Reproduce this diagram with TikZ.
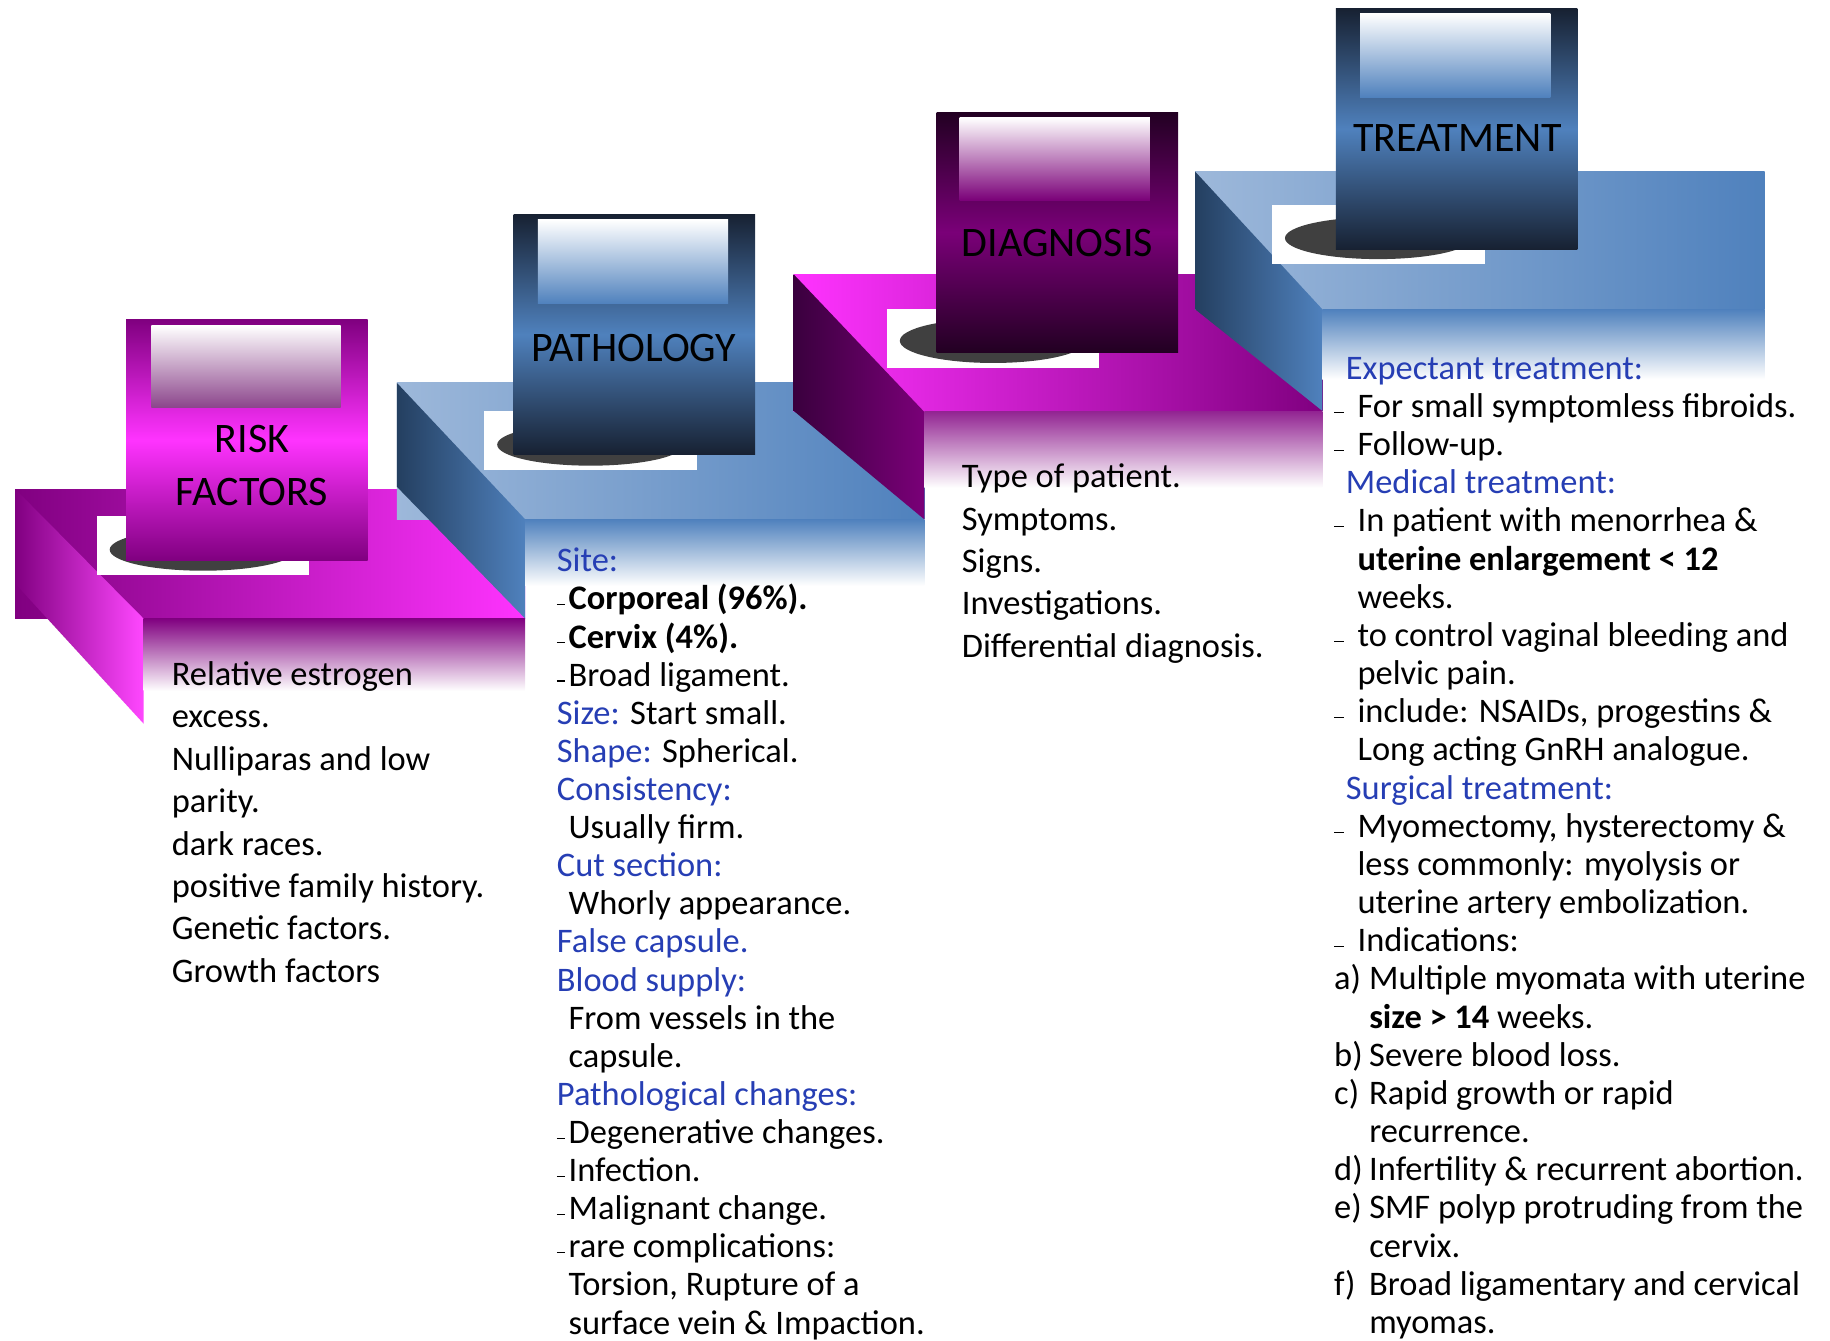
\documentclass[tikz,border=0pt]{standalone}
\usepackage{fontspec}
\setmainfont{Carlito}
\usepackage{tikz}
\usetikzlibrary{positioning}
\definecolor{RiskPurple}{RGB}{128,0,128}
\definecolor{RiskPink}{RGB}{255,51,255}
\definecolor{RiskMauve}{RGB}{140,70,140}
\definecolor{PathNavy}{RGB}{23,33,50}
\definecolor{PathBlue}{RGB}{79,129,189}
\definecolor{PathLight}{RGB}{157,184,218}
\definecolor{PathSide}{RGB}{36,63,96}
\definecolor{DiagDark}{RGB}{34,0,34}
\definecolor{DiagPurple}{RGB}{122,0,120}
\definecolor{DiagSide}{RGB}{58,0,62}
\definecolor{ShadowGray}{RGB}{64,64,64}
\definecolor{HeadBlue}{RGB}{38,62,180}
\newcommand{\headtxt}[1]{\textcolor{HeadBlue}{#1}}
\newcommand{\pathdash}{\makebox[10pt][l]{\rule[4pt]{7pt}{0.9pt}}}
\newcommand{\pathind}{\hspace*{10pt}}
\newcommand{\treatdash}{\makebox[20pt][l]{\rule[4pt]{8pt}{0.9pt}}}
\newcommand{\treatind}{\hspace*{20pt}}
\newcommand{\treathead}[1]{\hspace*{10pt}\textcolor{HeadBlue}{#1}}
\newcommand{\treatitem}[1]{\makebox[30pt][l]{#1}}
\newcommand{\treatcont}{\hspace*{30pt}}

\begin{document}
\begin{tikzpicture}[x=1pt,y=-1pt,
	titlebox/.style={rectangle,minimum width=207pt,minimum height=206pt,inner sep=0pt},
	titletxt/.style={anchor=base,inner sep=0pt,font=\fontsize{36}{45}\selectfont},
	bodytxt/.style={anchor=base west,inner sep=0pt,font=\fontsize{29.5}{35}\selectfont},
	shadowbg/.style={fill=white},
	shadowdisc/.style={fill=ShadowGray}]
	\useasboundingbox (0,0) rectangle (1568,1149);

	% risk factors
	\shade[left color=RiskPurple,right color=RiskPink] (13,419) rectangle (450,530);
	\shade[left color=RiskPurple,right color=RiskPink!90!white] (13,419) -- (123,530) -- (123,620) -- (13,500) -- cycle;
	\shade[top color=RiskPurple,bottom color=white] (123,530) rectangle (450,592);
	\fill[shadowbg] (83,442) rectangle (265,493);
	\fill[shadowdisc] (174,471) ellipse [x radius=80,y radius=18];
	\node[titlebox,top color=RiskPurple,bottom color=RiskPurple,middle color=RiskPink] (riskbox) at (211.5,377) {};
	\shade[top color=white,bottom color=RiskMauve] ([shift={(22,5)}]riskbox.north west) rectangle ++(162,70);
	\node[titletxt] (risktitle) at (216,388) {RISK};
	\node[titletxt] (risktitle2) at (216,433) {FACTORS};

	% pathology
	\shade[left color=PathLight,right color=PathBlue] (340,328) rectangle (792,445);
	\shade[left color=PathSide,right color=PathBlue] (340,328) -- (450,445) -- (450,530) -- (340,417) -- cycle;
	\shade[top color=PathBlue,bottom color=white] (450,445) rectangle (792,502);
	\fill[shadowbg] (415,352) rectangle (597,403);
	\fill[shadowdisc] (506,381) ellipse [x radius=80,y radius=18];
	\node[titlebox,top color=PathNavy,bottom color=PathNavy,middle color=PathBlue] (pathbox) at (543.5,286.5) {};
	\shade[top color=white,bottom color=PathBlue] ([shift={(21,5)}]pathbox.north west) rectangle ++(163,72);
	\node[titletxt] (pathtitle) at (543,310) {PATHOLOGY};

	% diagnosis
	\shade[left color=RiskPink,right color=RiskPurple] (680,235) rectangle (1133,353);
	\shade[left color=DiagSide,right color=DiagPurple] (680,235) -- (792,353) -- (792,445) -- (680,352) -- cycle;
	\shade[top color=RiskPurple!85!white,bottom color=white] (792,353) rectangle (1133,418);
	\fill[shadowbg] (760,265) rectangle (942,315);
	\fill[shadowdisc] (851,292) ellipse [x radius=80,y radius=19];
	\node[titlebox,top color=DiagDark,bottom color=DiagDark,middle color=DiagPurple] (diagbox) at (906,199) {};
	\shade[top color=white,bottom color=DiagPurple] ([shift={(20,5)}]diagbox.north west) rectangle ++(163,71);
	\node[titletxt] (diagtitle) at (906,220) {DIAGNOSIS};

	% treatment
	\shade[left color=PathLight,right color=PathBlue] (1024,147) rectangle (1512,265);
	\shade[left color=PathSide,right color=PathBlue] (1024,147) -- (1133,265) -- (1133,352) -- (1024,265) -- cycle;
	\shade[top color=PathBlue,bottom color=white] (1133,265) rectangle (1512,325);
	\fill[shadowbg] (1090,176) rectangle (1272,226);
	\fill[shadowdisc] (1181,204) ellipse [x radius=80,y radius=18];
	\node[titlebox,top color=PathNavy,bottom color=PathNavy,middle color=PathBlue] (treatbox) at (1248,110.5) {};
	\shade[top color=white,bottom color=PathBlue] ([shift={(21,4)}]treatbox.north west) rectangle ++(163,72);
	\node[titletxt] (treattitle) at (1249,130) {TREATMENT};

	% texts
	\foreach \linetext [count=\i from 0] in {Relative estrogen, excess., Nulliparas and low, parity., dark races., positive family history., Genetic factors., Growth factors}
		\node[bodytxt] (risk-\i) at (147,587+36.4*\i) {\linetext};

	\foreach \linetext [count=\i from 0] in {
		\headtxt{Site:},
		\pathdash\textbf{Corporeal (96\%).},
		\pathdash\textbf{Cervix (4\%).},
		\pathdash Broad ligament.,
		\headtxt{Size:} Start small.,
		\headtxt{Shape:} Spherical.,
		\headtxt{Consistency:},
		\pathind Usually firm.,
		\headtxt{Cut section:},
		\pathind Whorly appearance.,
		\headtxt{False capsule.},
		\headtxt{Blood supply:},
		\pathind From vessels in the,
		\pathind capsule.,
		\headtxt{Pathological changes:},
		\pathdash Degenerative changes.,
		\pathdash Infection.,
		\pathdash Malignant change.,
		\pathdash rare complications:,
		{\pathind Torsion, Rupture of a},
		\pathind surface vein \& Impaction.}
		\node[bodytxt] (path-\i) at (477,490+32.65*\i) {\linetext};

	\foreach \linetext [count=\i from 0] in {Type of patient., Symptoms., Signs., Investigations., Differential diagnosis.}
		\node[bodytxt] (diag-\i) at (824,418+36.25*\i) {\linetext};

	\foreach \linetext [count=\i from 0] in {
		\treathead{Expectant treatment:},
		\treatdash For small symptomless fibroids.,
		\treatdash Follow-up.,
		\treathead{Medical treatment:},
		\treatdash In patient with menorrhea \&,
		\treatind\textbf{uterine enlargement < 12},
		\treatind weeks.,
		\treatdash to control vaginal bleeding and,
		\treatind pelvic pain.,
		{\treatdash include: NSAIDs, progestins \&},
		\treatind Long acting GnRH analogue.,
		\treathead{Surgical treatment:},
		{\treatdash Myomectomy, hysterectomy \&},
		\treatind less commonly: myolysis or,
		\treatind uterine artery embolization.,
		\treatdash Indications:,
		\treatitem{a)}Multiple myomata with uterine,
		\treatcont\textbf{size > 14} weeks.,
		\treatitem{b)}Severe blood loss.,
		\treatitem{c)}Rapid growth or rapid,
		\treatcont recurrence.,
		\treatitem{d)}Infertility \& recurrent abortion.,
		\treatitem{e)}SMF polyp protruding from the,
		\treatcont cervix.,
		\treatitem{f)}Broad ligamentary and cervical,
		\treatcont myomas.}
		\node[bodytxt] (treat-\i) at (1143,325+32.7*\i) {\linetext};
\end{tikzpicture}
\end{document}
